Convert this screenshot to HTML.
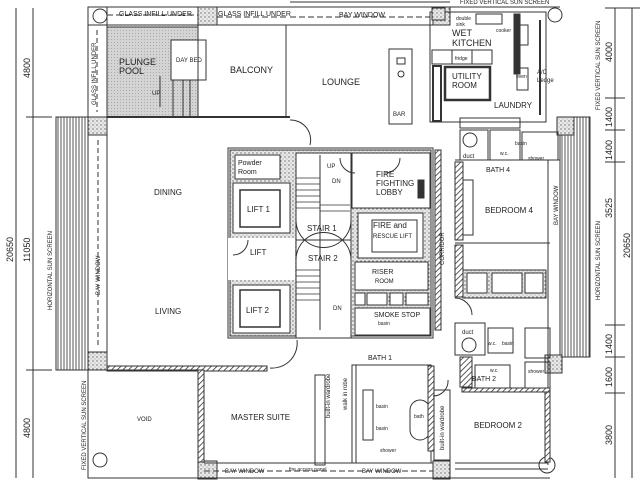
<!DOCTYPE html>
<html><head><meta charset="utf-8"><style>
html,body{margin:0;padding:0;background:#fff;}
svg{display:block;}
text{font-family:"Liberation Sans",sans-serif;fill:#222;}
</style></head><body>
<svg width="640" height="480" viewBox="0 0 640 480" xmlns="http://www.w3.org/2000/svg">
<defs>
<pattern id="hatch" width="4" height="4" patternUnits="userSpaceOnUse" patternTransform="rotate(45)">
<rect width="4" height="4" fill="#fff"/><line x1="0" y1="0" x2="0" y2="4" stroke="#333" stroke-width="1.6"/></pattern>
<pattern id="vstripe" width="3" height="3" patternUnits="userSpaceOnUse">
<rect width="3" height="3" fill="#fff"/><line x1="1" y1="0" x2="1" y2="3" stroke="#555" stroke-width="1"/></pattern>
<pattern id="dots" width="4" height="4" patternUnits="userSpaceOnUse">
<rect width="4" height="4" fill="#e8e8e8"/><circle cx="1" cy="1" r="0.7" fill="#666"/><circle cx="3" cy="3" r="0.5" fill="#888"/></pattern>
<pattern id="pool" width="3" height="3" patternUnits="userSpaceOnUse">
<rect width="3" height="3" fill="#d4d4d4"/><rect width="1" height="1" fill="#aaa"/></pattern>
</defs>
<g fill="none" stroke="#333" stroke-width="1">
<!-- dimension lines left -->
<line x1="16" y1="8" x2="16" y2="478"/><line x1="33" y1="8" x2="33" y2="478"/>
<line x1="26" y1="117" x2="52" y2="117"/><line x1="26" y1="370" x2="52" y2="370"/>
<!-- right dims -->
<line x1="615" y1="8" x2="615" y2="478"/><line x1="632" y1="8" x2="632" y2="478"/>
<line x1="605" y1="8" x2="640" y2="8"/>
<line x1="605" y1="98" x2="625" y2="98"/><line x1="605" y1="130" x2="625" y2="130"/><line x1="605" y1="162" x2="625" y2="162"/>
<line x1="605" y1="325" x2="625" y2="325"/><line x1="605" y1="357" x2="625" y2="357"/><line x1="605" y1="393" x2="625" y2="393"/>
<!-- sun screens -->
<rect x="56" y="117" width="32" height="253" fill="url(#vstripe)"/>
<rect x="560" y="117" width="30" height="240" fill="url(#vstripe)"/>
<!-- top strip -->
<line x1="88" y1="7" x2="560" y2="7"/><line x1="88" y1="25" x2="450" y2="25"/>
<line x1="290" y1="2" x2="450" y2="2"/><line x1="107" y1="15" x2="198" y2="15" stroke-dasharray="6,3"/>
<line x1="217" y1="17" x2="288" y2="17" stroke-dasharray="6,3"/><line x1="290" y1="17" x2="430" y2="17" stroke-dasharray="6,3"/>
<!-- pool/balcony -->
<rect x="88" y="7" width="19" height="110"/>
<line x1="97" y1="30" x2="97" y2="112" stroke-dasharray="5,3"/>
<rect x="107" y="27" width="91" height="90" fill="url(#pool)"/>
<rect x="171" y="40" width="35" height="40" fill="#fff"/>
<line x1="160" y1="76" x2="160" y2="107"/><line x1="173" y1="80" x2="173" y2="117"/><line x1="183" y1="80" x2="183" y2="117"/><line x1="190" y1="80" x2="190" y2="117"/>
<rect x="198" y="25" width="88" height="92"/>
<line x1="286" y1="25" x2="286" y2="117"/><line x1="107" y1="117" x2="290" y2="117" stroke-width="2"/>
<path d="M290 120 A20 20 0 0 1 310 145"/>
<!-- lounge -->
<rect x="389" y="49" width="23" height="75"/><rect x="397" y="58" width="8" height="6"/><circle cx="401" cy="74" r="3"/>
<!-- main left wall -->
<rect x="88" y="135" width="19" height="217"/>
<line x1="98" y1="140" x2="98" y2="348" stroke-dasharray="5,3"/>
<!-- columns -->
<rect x="198" y="7" width="19" height="18" fill="url(#dots)"/>
<rect x="433" y="7" width="17" height="18" fill="url(#dots)"/>
<rect x="88" y="117" width="19" height="18" fill="url(#dots)"/>
<rect x="88" y="352" width="19" height="18" fill="url(#dots)"/>
<rect x="198" y="461" width="19" height="18" fill="url(#dots)"/>
<rect x="433" y="461" width="17" height="18" fill="url(#dots)"/>
<rect x="223" y="117" width="6" height="0"/>
<circle cx="100" cy="16" r="7"/><circle cx="100" cy="460" r="7"/><circle cx="547" cy="465" r="8"/><circle cx="555" cy="15" r="7"/>
<rect x="557" y="117" width="17" height="18" fill="url(#dots)"/>
<rect x="545" y="355" width="17" height="18" fill="url(#dots)"/>
<!-- hatched walls bottom -->
<rect x="107" y="366" width="160" height="5" fill="url(#hatch)"/>
<path d="M270 368 A25 25 0 0 0 297 340"/>
<rect x="198" y="370" width="6" height="92" fill="url(#hatch)"/>
<rect x="88" y="370" width="110" height="108"/>
<line x1="88" y1="478" x2="550" y2="478"/>
<line x1="204" y1="463" x2="433" y2="463"/><line x1="204" y1="471" x2="433" y2="471" stroke-dasharray="6,3"/>
<!-- master/bath1 -->
<rect x="315" y="375" width="10" height="90"/><rect x="352" y="365" width="4" height="98"/>
<rect x="356" y="365" width="75" height="98"/>
<rect x="363" y="390" width="10" height="50"/>
<rect x="410" y="400" width="20" height="40" rx="10"/>
<rect x="428" y="366" width="6" height="85" fill="url(#hatch)"/>
<rect x="434" y="390" width="16" height="70"/>
<path d="M433 396 A15 15 0 0 0 448 380"/>
<!-- core -->
<rect x="228" y="148" width="205" height="190" stroke-width="1"/>
<rect x="230" y="150" width="201" height="186" fill="url(#dots)"/>
<rect x="235" y="155" width="45" height="24" fill="#fff"/>
<rect x="233" y="183" width="57" height="50" fill="#fff"/>
<rect x="240" y="190" width="40" height="37" stroke-width="1.5"/>
<rect x="228" y="238" width="67" height="42" fill="#fff" stroke="none"/>
<rect x="233" y="285" width="57" height="48" fill="#fff"/>
<rect x="240" y="290" width="40" height="37" stroke-width="1.5"/>
<rect x="296" y="153" width="55" height="185" fill="#fff"/>
<line x1="320" y1="155" x2="320" y2="330"/><line x1="296" y1="240" x2="351" y2="240"/>
<g stroke-width="0.7">
<line x1="296" y1="178" x2="320" y2="178"/><line x1="296" y1="184" x2="320" y2="184"/><line x1="296" y1="190" x2="320" y2="190"/><line x1="296" y1="196" x2="320" y2="196"/><line x1="296" y1="202" x2="320" y2="202"/><line x1="296" y1="208" x2="320" y2="208"/>
<line x1="296" y1="270" x2="320" y2="270"/><line x1="296" y1="276" x2="320" y2="276"/><line x1="296" y1="282" x2="320" y2="282"/><line x1="296" y1="288" x2="320" y2="288"/><line x1="296" y1="294" x2="320" y2="294"/><line x1="296" y1="300" x2="320" y2="300"/>
<line x1="320" y1="205" x2="350" y2="205"/><line x1="320" y1="211" x2="350" y2="211"/>
</g>
<path d="M296 220 A27 27 0 0 0 351 220"/><path d="M296 260 A27 27 0 0 1 351 260"/>
<rect x="352" y="153" width="78" height="55" fill="#fff"/>
<rect x="358" y="213" width="65" height="45" fill="#fff"/><rect x="372" y="220" width="45" height="32"/>
<rect x="355" y="262" width="73" height="28" fill="#fff"/>
<rect x="355" y="293" width="10" height="12" fill="#fff"/><rect x="367" y="293" width="20" height="12" fill="#fff"/><rect x="390" y="293" width="13" height="12" fill="#fff"/><rect x="406" y="293" width="22" height="12" fill="#fff"/>
<rect x="355" y="308" width="75" height="27" fill="#fff"/>
<rect x="418" y="180" width="6" height="18" fill="#333"/>
<path d="M233 255 A15 15 0 0 0 248 240"/><path d="M340 158 A15 15 0 0 0 355 173"/><path d="M400 158 A15 15 0 0 1 385 173"/>
<!-- corridor -->
<rect x="435" y="150" width="6" height="180" fill="url(#hatch)"/>
<!-- kitchen & services -->
<rect x="430" y="12" width="116" height="110"/>
<rect x="432" y="8" width="13" height="12" fill="url(#dots)"/>
<rect x="476" y="14" width="26" height="10"/>
<rect x="514" y="14" width="6" height="60" fill="#333"/><rect x="517" y="25" width="11" height="20"/><rect x="517" y="68" width="11" height="22"/>
<rect x="432" y="50" width="60" height="14"/><line x1="452" y1="50" x2="452" y2="64"/><line x1="472" y1="50" x2="472" y2="64"/>
<rect x="445" y="67" width="45" height="33" stroke-width="2.5"/>
<rect x="433" y="66" width="8" height="55" stroke-width="2"/>
<rect x="460" y="118" width="60" height="10"/>
<rect x="460" y="130" width="28" height="30"/><circle cx="470" cy="140" r="7"/>
<rect x="490" y="130" width="30" height="30"/><rect x="522" y="132" width="36" height="28"/>
<line x1="540" y1="20" x2="540" y2="115" stroke-width="2"/>
<line x1="455" y1="160" x2="560" y2="160"/>
<!-- bedroom 4 -->
<rect x="455" y="162" width="8" height="78" fill="url(#hatch)"/>
<rect x="463" y="180" width="10" height="55"/>
<line x1="455" y1="243" x2="550" y2="243"/>
<rect x="455" y="245" width="8" height="52" fill="url(#hatch)"/>
<rect x="463" y="270" width="83" height="28" fill="url(#dots)"/>
<rect x="467" y="273" width="20" height="20" fill="#fff"/><rect x="492" y="273" width="30" height="20" fill="#fff"/><rect x="525" y="273" width="18" height="20" fill="#fff"/>
<line x1="548" y1="160" x2="548" y2="465"/>
<!-- bath 3/2 -->
<path d="M455 298 A17 17 0 0 1 472 315"/>
<rect x="455" y="323" width="30" height="32"/><circle cx="469" cy="345" r="7"/>
<rect x="488" y="328" width="25" height="25"/><rect x="525" y="328" width="25" height="30"/>
<rect x="460" y="357" width="12" height="30" fill="url(#hatch)"/><rect x="475" y="365" width="35" height="25"/>
<rect x="525" y="362" width="25" height="28"/>
<rect x="462" y="388" width="88" height="4" fill="url(#hatch)"/>
<rect x="545" y="392" width="5" height="70" fill="url(#hatch)"/>
<line x1="455" y1="463" x2="548" y2="463"/><line x1="455" y1="469" x2="548" y2="469"/>
</g>
<!-- labels -->
<g font-size="7">
<text x="119" y="16">GLASS INFILL UNDER</text><text x="218" y="16">GLASS INFILL UNDER</text>
<text x="339" y="17" font-size="7">BAY WINDOW</text>
<text x="460" y="4" font-size="6">FIXED VERTICAL SUN SCREEN</text>
<text x="119" y="65" font-size="9">PLUNGE</text><text x="119" y="74" font-size="9">POOL</text>
<text x="176" y="62" font-size="6">DAY BED</text>
<text x="230" y="73" font-size="9">BALCONY</text>
<text x="322" y="85" font-size="9">LOUNGE</text><text x="393" y="116" font-size="6">BAR</text>
<text x="152" y="95" font-size="6">UP</text>
<text x="452" y="36" font-size="9">WET</text><text x="452" y="46" font-size="9">KITCHEN</text>
<text x="452" y="79" font-size="8">UTILITY</text><text x="452" y="88" font-size="8">ROOM</text>
<text x="494" y="108" font-size="8">LAUNDRY</text>
<text x="537" y="74" font-size="6">A/C</text><text x="537" y="82" font-size="6">Ledge</text>
<text x="456" y="20" font-size="5">double</text><text x="456" y="26" font-size="5">sink</text>
<text x="496" y="32" font-size="5">cooker</text><text x="455" y="60" font-size="5">fridge</text><text x="516" y="78" font-size="5">oven</text>
<text x="486" y="172" font-size="7">BATH 4</text>
<text x="485" y="213" font-size="8">BEDROOM 4</text>
<text x="463" y="158" font-size="6">duct</text>
<text x="472" y="381" font-size="7">BATH 2</text>
<text x="474" y="428" font-size="8">BEDROOM 2</text>
<text x="462" y="334" font-size="6">duct</text>
<text x="368" y="360" font-size="7">BATH 1</text>
<text x="231" y="420" font-size="8">MASTER SUITE</text>
<text x="137" y="421" font-size="6">VOID</text>
<text x="154" y="195" font-size="8">DINING</text>
<text x="155" y="314" font-size="8">LIVING</text>
<text x="250" y="255" font-size="8">LIFT</text>
<text x="247" y="212" font-size="8">LIFT 1</text><text x="246" y="313" font-size="8">LIFT 2</text>
<text x="307" y="231" font-size="8">STAIR 1</text><text x="308" y="261" font-size="8">STAIR 2</text>
<text x="376" y="177" font-size="8">FIRE</text><text x="376" y="186" font-size="8">FIGHTING</text><text x="376" y="195" font-size="8">LOBBY</text>
<text x="373" y="228" font-size="8">FIRE and</text><text x="373" y="238" font-size="6">RESCUE LIFT</text>
<text x="372" y="274" font-size="7">RISER</text><text x="375" y="283" font-size="6">ROOM</text>
<text x="374" y="317" font-size="7">SMOKE STOP</text>
<text x="238" y="165" font-size="7">Powder</text><text x="238" y="174" font-size="7">Room</text>
<text x="327" y="168" font-size="6">UP</text><text x="332" y="183" font-size="6">DN</text><text x="333" y="310" font-size="6">DN</text>
<text x="378" y="325" font-size="5">basin</text>
</g>
<g font-size="9">
<text transform="translate(30,78) rotate(-90)">4800</text>
<text transform="translate(13,262) rotate(-90)">20650</text>
<text transform="translate(30,262) rotate(-90)">11050</text>
<text transform="translate(30,438) rotate(-90)">4800</text>
<text transform="translate(612,62) rotate(-90)">4000</text>
<text transform="translate(612,127) rotate(-90)">1400</text>
<text transform="translate(612,160) rotate(-90)">1400</text>
<text transform="translate(612,218) rotate(-90)">3525</text>
<text transform="translate(630,258) rotate(-90)">20650</text>
<text transform="translate(612,354) rotate(-90)">1400</text>
<text transform="translate(612,387) rotate(-90)">1600</text>
<text transform="translate(612,445) rotate(-90)">3800</text>
</g>
<g font-size="6">
<text transform="translate(96,105) rotate(-90)">GLASS INFILL UNDER</text>
<text transform="translate(52,310) rotate(-90)">HORIZONTAL SUN SCREEN</text>
<text transform="translate(100,295) rotate(-90)">BAY WINDOW</text>
<text transform="translate(86,470) rotate(-90)">FIXED VERTICAL SUN SCREEN</text>
<text transform="translate(600,110) rotate(-90)">FIXED VERTICAL SUN SCREEN</text>
<text transform="translate(600,300) rotate(-90)">HORIZONTAL SUN SCREEN</text>
<text transform="translate(558,225) rotate(-90)">BAY WINDOW</text>
<text transform="translate(444,265) rotate(-90)">CORRIDOR</text>
<text transform="translate(330,418) rotate(-90)">built-in wardrobe</text>
<text transform="translate(347,410) rotate(-90)">walk in robe</text>
<text transform="translate(444,450) rotate(-90)">built-in wardrobe</text>
<text x="225" y="473">BAY WINDOW</text><text x="289" y="471" font-size="5">fire access panel</text><text x="362" y="473">BAY WINDOW</text>
<text x="376" y="408" font-size="5">basin</text><text x="376" y="430" font-size="5">basin</text>
<text x="380" y="452" font-size="5">shower</text><text x="414" y="418" font-size="5">bath</text>
<text x="494" y="447" font-size="5"> </text>
<text x="500" y="155" font-size="5">w.c.</text><text x="515" y="145" font-size="5">basin</text><text x="528" y="160" font-size="5">shower</text>
<text x="490" y="372" font-size="5">w.c.</text><text x="528" y="373" font-size="5">shower</text>
<text x="488" y="345" font-size="5">w.c.</text><text x="502" y="345" font-size="5">basin</text>
</g>
</svg>
</body></html>
